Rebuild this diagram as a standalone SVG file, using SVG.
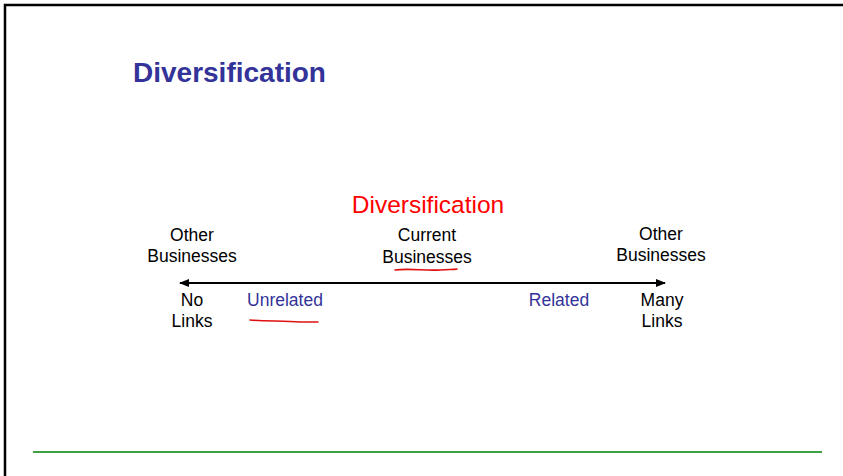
<svg xmlns="http://www.w3.org/2000/svg" width="843" height="476" viewBox="0 0 843 476">
<style>
.t{font-family:"Liberation Sans",Arial,sans-serif;font-size:17.5px;fill:#000;text-anchor:middle}
.b{fill:#333399}
.ink{fill:none;stroke:#e01010;stroke-width:1.6;stroke-linecap:round}
</style>
<defs>
<marker id="ah" viewBox="0 0 10 10" refX="9" refY="5" markerWidth="5" markerHeight="5" orient="auto-start-reverse">
<path d="M0,1 L10,5 L0,9 z" fill="#000"/>
</marker>
</defs>
<rect width="843" height="476" fill="#fff"/>
<path d="M5,476 V5 H843" fill="none" stroke="#000" stroke-width="2.5"/>
<line x1="33" y1="452" x2="822" y2="452" stroke="#008000" stroke-width="1.5"/>
<text x="133" y="82" font-family="'Liberation Sans',Arial,sans-serif" font-size="28" font-weight="bold" fill="#333399">Diversification</text>
<text x="428" y="213" class="t" style="font-size:24.5px;fill:#ff0000">Diversification</text>
<g id="connectors">
<line x1="180" y1="283" x2="665" y2="283" stroke="#000" stroke-width="2" marker-start="url(#ah)" marker-end="url(#ah)"/>
</g>
<g id="left-top"><text class="t" x="192" y="241">Other</text><text class="t" x="192" y="262">Businesses</text></g>
<g id="center-top"><text class="t" x="427" y="241">Current</text><text class="t" x="427" y="263">Businesses</text></g>
<g id="right-top"><text class="t" x="661" y="240">Other</text><text class="t" x="661" y="261">Businesses</text></g>
<g id="left-bottom"><text class="t" x="192" y="306">No</text><text class="t" x="192" y="327">Links</text></g>
<g id="unrelated"><text class="t b" x="285" y="306">Unrelated</text></g>
<g id="related"><text class="t b" x="559" y="306">Related</text></g>
<g id="right-bottom"><text class="t" x="662" y="306">Many</text><text class="t" x="662" y="327">Links</text></g>
<path class="ink" d="M395,270 C410,268 425,271 440,270 C448,269 453,270 457,269"/>
<path class="ink" d="M250,320 C265,321 285,321 300,322 C308,322 314,322 318,322"/>
</svg>
